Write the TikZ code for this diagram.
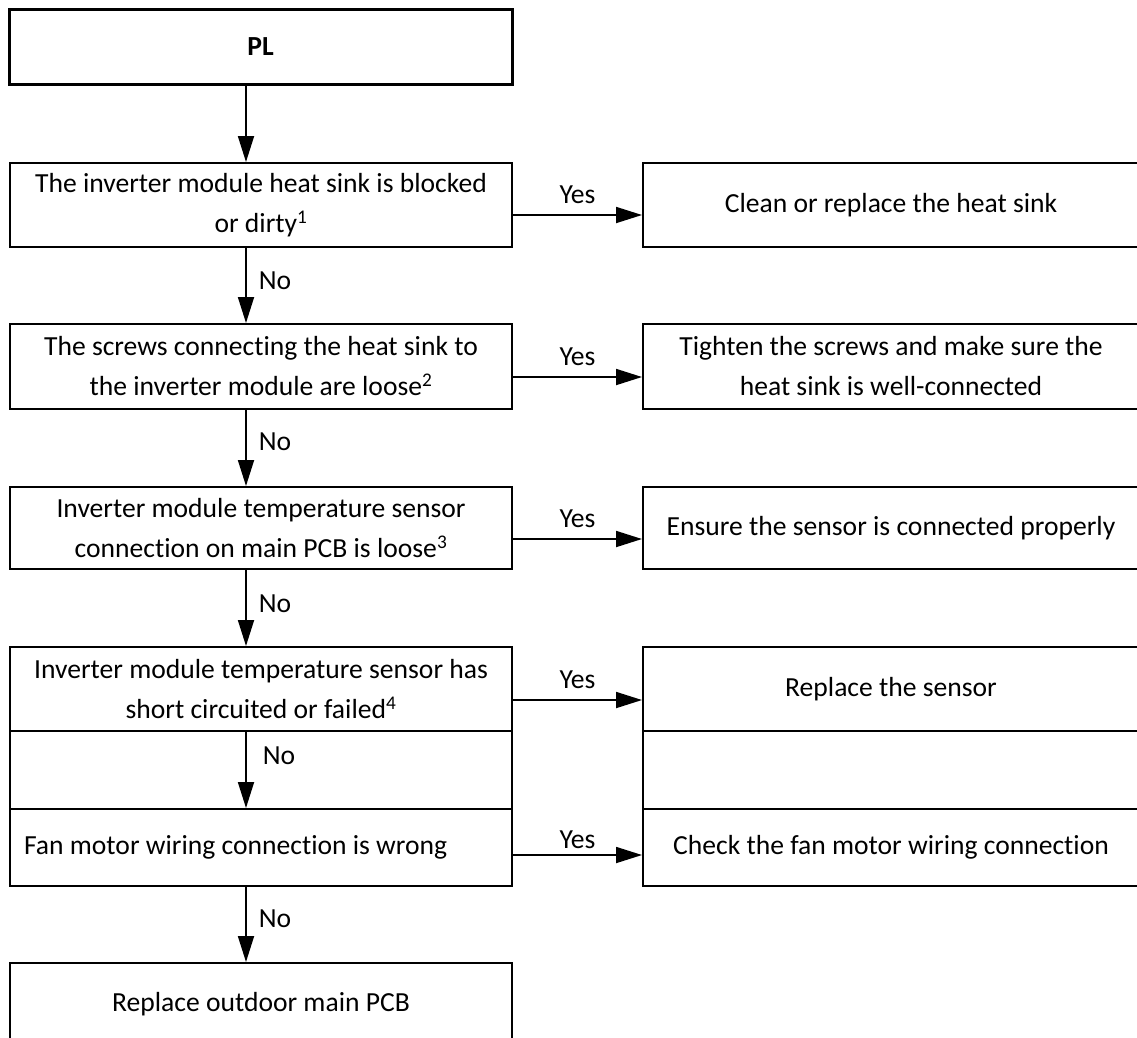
\documentclass[tikz,border=0pt]{standalone}
\usepackage{fontspec}
\setmainfont[Ligatures={NoCommon,NoContextual,NoRequired}]{Carlito}
\usetikzlibrary{arrows.meta}
\begin{document}
\begin{tikzpicture}[x=1pt,y=-1pt,
  txt/.style={font=\fontsize{27.6}{40}\selectfont},
  box/.style={draw, line width=2pt, rectangle, inner sep=0pt, align=center, txt},
  lbox/.style={box, minimum width=502pt},
  rbox/.style={box, minimum width=496pt},
  arr/.style={line width=1.8pt, -{Triangle[length=26pt,width=16pt]}},
  lbl/.style={inner sep=0pt, txt}]
\useasboundingbox (0,0) rectangle (1137,1037);
\fill[white] (0,0) rectangle (1137,1037);
\clip (0,0) rectangle (1137,1037);

% left column
\node[box, line width=3pt, minimum width=503pt, minimum height=75pt,
      font=\fontsize{27.6}{40}\selectfont\bfseries] (pl) at (260.5,46.5) {PL};
\node[lbox, minimum height=84pt] (b1) at (261,205)
  {The inverter module heat sink is blocked\\or dirty\textsuperscript{1}};
\node[lbox, minimum height=85pt] (b2) at (261,366.5)
  {The screws connecting the heat sink to\\the inverter module are loose\textsuperscript{2}};
\node[lbox, minimum height=82pt] (b3) at (261,528)
  {Inverter module temperature sensor\\connection on main PCB is loose\textsuperscript{3}};
\node[lbox, minimum height=84pt] (b4) at (261,689)
  {Inverter module temperature sensor has\\short circuited or failed\textsuperscript{4}};
\node[lbox, minimum height=78pt] (bm) at (261,770) {};
\node[lbox, minimum height=77pt, text width=474pt, inner xsep=14pt, align=flush left] (b5) at (261,847.5)
  {Fan motor wiring connection is wrong};
\node[lbox, minimum height=82pt] (b6) at (261,1004) {Replace outdoor main PCB};

% right column
\node[rbox, minimum height=84pt] (r1) at (891,205) {Clean or replace the heat sink};
\node[rbox, minimum height=85pt] (r2) at (891,366.5)
  {Tighten the screws and make sure the\\heat sink is well-connected};
\node[rbox, minimum height=82pt] (r3) at (891,528) {Ensure the sensor is connected properly};
\node[rbox, minimum height=84pt] (r4) at (891,689) {Replace the sensor};
\node[rbox, minimum height=78pt] (rm) at (891,770) {};
\node[rbox, minimum height=77pt] (r5) at (891,847.5) {Check the fan motor wiring connection};

% vertical connectors
\coordinate (ax) at (246,0);
\draw[arr] (pl.south -| ax) -- (b1.north -| ax);
\draw[arr] (b1.south -| ax) -- node[lbl, pos=0.44, anchor=west, xshift=12pt] {No} (b2.north -| ax);
\draw[arr] (b2.south -| ax) -- node[lbl, pos=0.42, anchor=west, xshift=12pt] {No} (b3.north -| ax);
\draw[arr] (b3.south -| ax) -- node[lbl, pos=0.44, anchor=west, xshift=12pt] {No} (b4.north -| ax);
\draw[arr] (b4.south -| ax) -- node[lbl, pos=0.31, anchor=west, xshift=16pt] {No} (b5.north -| ax);
\draw[arr] (b5.south -| ax) -- node[lbl, pos=0.42, anchor=west, xshift=12pt] {No} (b6.north -| ax);

% horizontal connectors
\draw[arr] ([yshift=-10pt]b1.east) -- node[lbl, anchor=south, yshift=10pt] {Yes} ([yshift=-10pt]r1.west);
\draw[arr] ([yshift=-10.5pt]b2.east) -- node[lbl, anchor=south, yshift=10pt] {Yes} ([yshift=-10.5pt]r2.west);
\draw[arr] ([yshift=-11pt]b3.east) -- node[lbl, anchor=south, yshift=10pt] {Yes} ([yshift=-11pt]r3.west);
\draw[arr] ([yshift=-11pt]b4.east) -- node[lbl, anchor=south, yshift=10pt] {Yes} ([yshift=-11pt]r4.west);
\draw[arr] ([yshift=-7.5pt]b5.east) -- node[lbl, anchor=south, yshift=5pt] {Yes} ([yshift=-7.5pt]r5.west);
\end{tikzpicture}
\end{document}
